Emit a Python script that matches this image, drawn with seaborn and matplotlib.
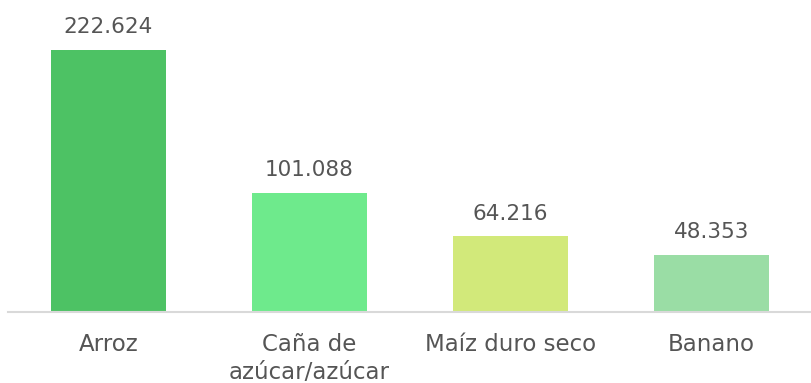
import matplotlib
matplotlib.use("Agg")
import matplotlib.pyplot as plt
import seaborn as sns
import pandas as pd

categorias = ["Arroz", "Caña de\nazúcar/azúcar", "Maíz duro seco", "Banano"]
valores = [222.624, 101.088, 64.216, 48.353]
etiquetas = ["222.624", "101.088", "64.216", "48.353"]
colores = ["#4DC264", "#6EEA8C", "#D2E97A", "#9ADDA5"]

sns.set_theme(style="white")
plt.rcParams["font.family"] = ["DejaVu Sans"]

df = pd.DataFrame({"cultivo": categorias, "valor": valores})

fig = plt.figure(figsize=(8.12, 3.83), dpi=100)
ax = fig.add_axes([8 / 812, 71 / 383, 804 / 812, 312 / 383])

sns.barplot(data=df, x="cultivo", y="valor", hue="cultivo", palette=colores,
            width=0.575, saturation=1, legend=False, linewidth=0, ax=ax)

texto = "#555555"
for i, (v, t) in enumerate(zip(valores, etiquetas)):
    ax.annotate(t, (i, v), xytext=(0, 12), textcoords="offset points",
                ha="center", va="baseline", fontsize=15.5, color=texto)

ax.set_xlim(-0.5, 3.5)
ax.set_ylim(0, 265)
ax.set_xlabel("")
ax.set_ylabel("")
ax.set_yticks([])
for s in ["top", "right", "left"]:
    ax.spines[s].set_visible(False)
ax.spines["bottom"].set_color("#D9D9D9")
ax.spines["bottom"].set_linewidth(1.5)
ax.tick_params(axis="x", length=0, pad=15, labelsize=16.5, labelcolor=texto)
for lbl in ax.get_xticklabels():
    lbl.set_linespacing(1.3)

fig.savefig("out.png", dpi=100)
